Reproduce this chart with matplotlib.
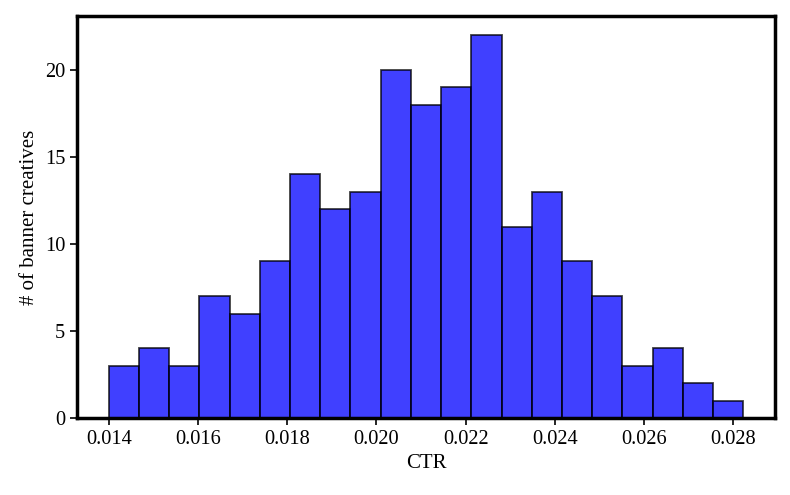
import numpy as np
import matplotlib
matplotlib.use("Agg")
import matplotlib.pyplot as plt

# data: histogram counts
counts = [3, 4, 3, 7, 6, 9, 14, 12, 13, 20, 18, 19, 22, 11, 13, 9, 7, 3, 4, 2, 1]
ctr_min = 0.0140
ctr_max = 0.02822

edges = np.linspace(ctr_min, ctr_max, len(counts) + 1)

plt.rcParams['font.family'] = ['Liberation Serif', 'DejaVu Serif']
plt.rcParams['font.size'] = 14.7

fig = plt.figure(figsize=(7.9, 4.95), dpi=100)
ax = fig.add_axes([0.0975, 0.1556, 0.8835, 0.8121])

ax.hist(edges[:-1], bins=edges, weights=counts, color='blue', alpha=0.75,
        edgecolor='black', linewidth=1.3)

ax.set_xlabel("CTR", fontsize=15)
ax.set_ylabel("# of banner creatives", fontsize=15)
ax.set_xticks([0.014, 0.016, 0.018, 0.020, 0.022, 0.024, 0.026, 0.028])
ax.tick_params(length=5, width=1.2)
for s in ax.spines.values():
    s.set_linewidth(2.5)

fig.savefig("out.png", dpi=100)
